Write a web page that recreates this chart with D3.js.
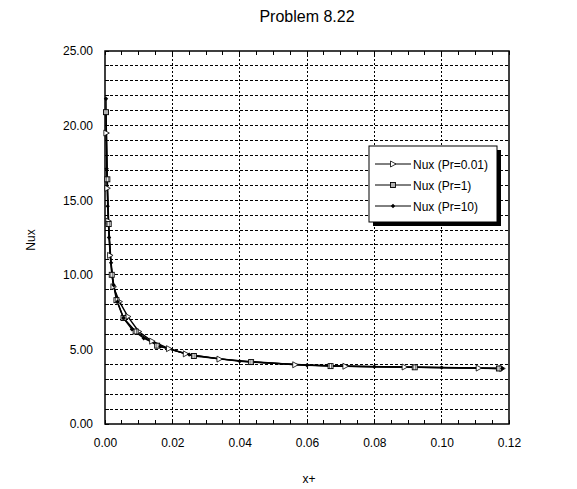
<!DOCTYPE html>
<html><head><meta charset="utf-8">
<script src="https://cdn.jsdelivr.net/npm/d3@7/dist/d3.min.js"></script>
<style>
body{margin:0;background:#fff;}
text{font-family:"Liberation Sans",Arial,sans-serif;fill:#000;}
</style></head>
<body><svg id="c" width="577" height="489"></svg>
<script>
const title = "Problem 8.22";
const xLabel = "x+";
const yLabel = "Nux";
const xTicks = [0, 0.02, 0.04, 0.06, 0.08, 0.10, 0.12];
const yTicks = [0, 5, 10, 15, 20, 25];
const seriesNames = ["Nux (Pr=0.01)", "Nux (Pr=1)", "Nux (Pr=10)"];
const seriesMarkers = ["triangle", "square", "diamond"];
const xPr001 = [0.0004, 0.0007, 0.0010, 0.0015, 0.0025, 0.0043, 0.0068, 0.010, 0.014, 0.019, 0.024, 0.034, 0.0565, 0.0714, 0.089, 0.111, 0.118];
const yPr001 = [19.5, 15.8, 13.6, 11.3, 9.2, 8.2, 7.2, 6.2, 5.55, 5.05, 4.7, 4.35, 3.97, 3.87, 3.82, 3.75, 3.72];
const xPr1 = [0.0003, 0.0007, 0.0011, 0.002, 0.0034, 0.0055, 0.0091, 0.0155, 0.0264, 0.0434, 0.067, 0.092, 0.117];
const yPr1 = [20.9, 16.4, 13.4, 10.0, 8.3, 7.1, 6.2, 5.25, 4.56, 4.15, 3.88, 3.8, 3.72];
const xPr10 = [0.0003, 0.0005, 0.0008, 0.0012, 0.0018, 0.0026, 0.0037, 0.0055, 0.008, 0.0115, 0.0165, 0.025, 0.04, 0.06, 0.08, 0.10, 0.118];
const yPr10 = [21.8, 17.1, 14.6, 12.5, 10.8, 9.3, 8.2, 7.1, 6.35, 5.75, 5.2, 4.65, 4.2, 3.94, 3.84, 3.78, 3.72];

const series = [
  {name: seriesNames[0], marker: seriesMarkers[0], xs: xPr001, ys: yPr001},
  {name: seriesNames[1], marker: seriesMarkers[1], xs: xPr1, ys: yPr1},
  {name: seriesNames[2], marker: seriesMarkers[2], xs: xPr10, ys: yPr10}
];

const L = 105, R = 509, T = 51, B = 424;
const svg = d3.select("#c");
const x = d3.scaleLinear().domain([0, 0.12]).range([L, R]);
const y = d3.scaleLinear().domain([0, 25]).range([B, T]);

// horizontal dashed gridlines every 1
const hGrid = d3.range(1, 25);
svg.append("g").selectAll("line").data(hGrid).join("line")
  .attr("x1", L).attr("x2", R).attr("y1", d => y(d)).attr("y2", d => y(d))
  .attr("stroke", "#000").attr("stroke-width", 1).attr("stroke-dasharray", "3,2")
  .attr("shape-rendering", "crispEdges");
// vertical dotted gridlines at major ticks
svg.append("g").selectAll("line").data(xTicks.slice(1, -1)).join("line")
  .attr("x1", d => x(d)).attr("x2", d => x(d)).attr("y1", T).attr("y2", B)
  .attr("stroke", "#000").attr("stroke-width", 1).attr("stroke-dasharray", "2,2")
  .attr("shape-rendering", "crispEdges");

// axes
const xAxisB = d3.axisBottom(x).tickValues(xTicks).tickFormat(d3.format(".2f")).tickSize(0).tickPadding(14);
const gxb = svg.append("g").attr("transform", `translate(0,${B})`).call(xAxisB);
gxb.select(".domain").remove();
gxb.selectAll("text").attr("font-size", 12).attr("font-family", "Liberation Sans, Arial, sans-serif");

const yAxisL = d3.axisLeft(y).tickValues(yTicks).tickFormat(d3.format(".2f")).tickSize(0).tickPadding(12);
const gyl = svg.append("g").attr("transform", `translate(${L},0)`).call(yAxisL);
gyl.select(".domain").remove();
gyl.selectAll("text").attr("font-size", 12).attr("font-family", "Liberation Sans, Arial, sans-serif");

// minor ticks (inward)
const xMinor = d3.range(0, 25).map(i => i * 0.005);
const tk = svg.append("g").attr("stroke", "#000").attr("stroke-width", 1).attr("shape-rendering", "crispEdges");
tk.selectAll(".xb").data(xMinor).join("line").attr("class", "xb")
  .attr("x1", d => x(d)).attr("x2", d => x(d)).attr("y1", B).attr("y2", B - 4);
tk.selectAll(".xt").data(xMinor).join("line").attr("class", "xt")
  .attr("x1", d => x(d)).attr("x2", d => x(d)).attr("y1", T).attr("y2", T + 4);
tk.selectAll(".yl").data(d3.range(0, 26)).join("line").attr("class", "yl")
  .attr("x1", L).attr("x2", L + 4).attr("y1", d => y(d)).attr("y2", d => y(d));

// frame
svg.append("rect").attr("x", L).attr("y", T).attr("width", R - L).attr("height", B - T)
  .attr("fill", "none").attr("stroke", "#000").attr("stroke-width", 1.5);

// markers
function drawMarker(g, type, cx, cy) {
  if (type === "triangle") {
    g.append("path").attr("d", `M${cx-2.5},${cy-3}L${cx+3},${cy}L${cx-2.5},${cy+3}Z`)
      .attr("fill", "#fff").attr("stroke", "#000").attr("stroke-width", 0.8);
  } else if (type === "square") {
    g.append("rect").attr("x", cx - 2.5).attr("y", cy - 2.5).attr("width", 5).attr("height", 5)
      .attr("fill", "#fff").attr("stroke", "#000").attr("stroke-width", 0.9);
    g.append("line").attr("x1", cx - 1).attr("x2", cx - 1).attr("y1", cy - 2.5).attr("y2", cy + 2.5)
      .attr("stroke", "#000").attr("stroke-width", 0.6);
    g.append("line").attr("x1", cx + 1).attr("x2", cx + 1).attr("y1", cy - 2.5).attr("y2", cy + 2.5)
      .attr("stroke", "#000").attr("stroke-width", 0.6);
  } else {
    g.append("path").attr("d", `M${cx},${cy-2.2}L${cx+2.2},${cy}L${cx},${cy+2.2}L${cx-2.2},${cy}Z`)
      .attr("fill", "#000");
  }
}

const line = d3.line().x(d => x(d[0])).y(d => y(d[1]));
const plot = svg.append("g");
series.forEach(s => {
  const pts = s.xs.map((v, i) => [v, s.ys[i]]);
  plot.append("path").attr("d", line(pts)).attr("fill", "none").attr("stroke", "#000").attr("stroke-width", 1.4);
});
series.forEach(s => {
  const g = plot.append("g");
  s.xs.forEach((v, i) => drawMarker(g, s.marker, x(v), y(s.ys[i])));
});

// legend
const lgX = 369, lgY = 146, lgW = 128, lgH = 76;
svg.append("rect").attr("x", lgX + 4).attr("y", lgY + 4).attr("width", lgW).attr("height", lgH).attr("fill", "#000");
svg.append("rect").attr("x", lgX).attr("y", lgY).attr("width", lgW).attr("height", lgH)
  .attr("fill", "#fff").attr("stroke", "#000").attr("stroke-width", 1);
series.forEach((s, i) => {
  const ly = lgY + 18 + i * 21;
  svg.append("line").attr("x1", lgX + 6).attr("x2", lgX + 42).attr("y1", ly).attr("y2", ly)
    .attr("stroke", "#000").attr("stroke-width", 1);
  drawMarker(svg, s.marker, lgX + 24, ly);
  svg.append("text").attr("x", lgX + 44).attr("y", ly + 4.5).attr("font-size", 12).text(s.name);
});

// titles
svg.append("text").attr("x", 307).attr("y", 22).attr("text-anchor", "middle").attr("font-size", 16).text(title);
svg.append("text").attr("x", 309).attr("y", 483).attr("text-anchor", "middle").attr("font-size", 12).text(xLabel);
svg.append("text").attr("transform", `translate(35,240) rotate(-90)`).attr("text-anchor", "middle").attr("font-size", 12).text(yLabel);
</script></body></html>
